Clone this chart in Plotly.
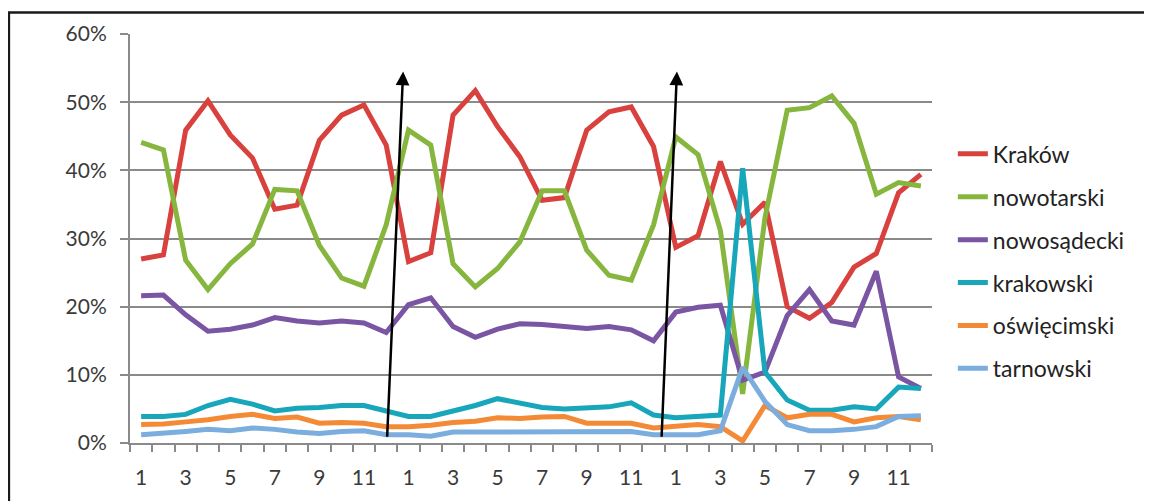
import plotly.graph_objects as go

months = list(range(1, 13)) * 3
x_idx = list(range(len(months)))

krakow = [27.0, 27.6, 45.9, 50.2, 45.2, 41.8, 34.3, 34.9, 44.4, 48.1, 49.6, 43.7,
          26.6, 27.9, 48.1, 51.7, 46.4, 42.0, 35.6, 36.0, 45.9, 48.6, 49.3, 43.5,
          28.7, 30.4, 41.3, 32.1, 35.3, 20.0, 18.3, 20.6, 25.8, 27.8, 36.7, 39.4]
nowotarski = [44.1, 43.0, 26.8, 22.5, 26.3, 29.2, 37.2, 37.0, 29.0, 24.2, 23.0, 32.0,
              45.9, 43.7, 26.3, 22.9, 25.6, 29.5, 37.0, 37.0, 28.3, 24.6, 23.9, 32.0,
              44.9, 42.3, 31.2, 7.2, 33.0, 48.8, 49.2, 50.9, 46.9, 36.5, 38.2, 37.7]
nowosadecki = [21.6, 21.7, 18.8, 16.4, 16.7, 17.3, 18.4, 17.9, 17.6, 17.9, 17.6, 16.2,
               20.3, 21.3, 17.1, 15.5, 16.7, 17.5, 17.4, 17.1, 16.8, 17.1, 16.6, 15.0,
               19.2, 19.9, 20.2, 9.2, 10.4, 18.7, 22.5, 17.9, 17.3, 25.2, 9.7, 8.0]
krakowski = [3.9, 3.9, 4.2, 5.5, 6.4, 5.7, 4.7, 5.1, 5.2, 5.5, 5.5, 4.7,
             3.9, 3.9, 4.7, 5.5, 6.5, 5.9, 5.2, 5.0, 5.2, 5.3, 5.9, 4.1,
             3.7, 3.9, 4.1, 40.3, 10.4, 6.3, 4.8, 4.8, 5.3, 5.0, 8.2, 8.0]
oswiecimski = [2.7, 2.8, 3.1, 3.4, 3.9, 4.2, 3.6, 3.8, 2.9, 3.0, 2.9, 2.4,
               2.4, 2.6, 3.0, 3.2, 3.7, 3.6, 3.8, 3.9, 2.9, 2.9, 2.9, 2.2,
               2.4, 2.7, 2.4, 0.3, 5.5, 3.7, 4.2, 4.2, 3.1, 3.7, 3.9, 3.4]
tarnowski = [1.2, 1.4, 1.7, 2.0, 1.8, 2.2, 2.0, 1.6, 1.4, 1.7, 1.8, 1.2,
             1.2, 1.0, 1.6, 1.6, 1.6, 1.6, 1.6, 1.6, 1.6, 1.6, 1.7, 1.2,
             1.2, 1.2, 1.8, 11.1, 6.1, 2.7, 1.8, 1.8, 2.0, 2.4, 3.9, 4.0]

series = [
    ("Kraków", krakow, "#D8413D"),
    ("nowotarski", nowotarski, "#86B63E"),
    ("nowosądecki", nowosadecki, "#7A55A3"),
    ("krakowski", krakowski, "#17A6BA"),
    ("oświęcimski", oswiecimski, "#F58A36"),
    ("tarnowski", tarnowski, "#7BADDE"),
]

# arrows marking the turn of each year (tail -> head)
arrow_tail_x = [11.04, 23.36]
arrow_head_x = [11.76, 24.05]
arrow_tail_y = [0.007, 0.007]
arrow_head_y = [0.545, 0.545]

grid = "#8A8A8A"
txt = "#3A3A3A"

fig = go.Figure()
for i, (name, vals, color) in enumerate(series):
    fig.add_trace(go.Scatter(
        x=x_idx, y=[v / 100 for v in vals], name=name, mode="lines",
        line=dict(color=color, width=5), legendgroup=str(i)))

for tx, hx, ty, hy in zip(arrow_tail_x, arrow_head_x, arrow_tail_y, arrow_head_y):
    fig.add_annotation(
        x=hx, y=hy, ax=tx, ay=ty, xref="x", yref="y", axref="x", ayref="y",
        text="", showarrow=True, arrowhead=2, arrowsize=1.1, arrowwidth=2.5,
        arrowcolor="black", standoff=0)

# outer frame of the original picture
fig.add_shape(type="rect", xref="paper", yref="paper",
              x0=-0.151, x1=1.3, y0=-0.2, y1=1.0527,
              line=dict(color="#1A1A1A", width=2.5), layer="below")

fig.update_xaxes(
    range=[-0.5, 35.5], tickmode="array", tickvals=x_idx[::2],
    ticktext=[str(m) for m in months[::2]],
    ticks="outside", ticklen=7, tickcolor="rgba(0,0,0,0)", ticklabelstandoff=8,
    minor=dict(tickmode="linear", tick0=-0.5, dtick=1, ticks="outside",
               ticklen=7, tickwidth=2, tickcolor=grid, showgrid=False),
    showline=True, linecolor=grid, linewidth=2, showgrid=False, zeroline=False,
    tickfont=dict(size=21, color=txt, family="Lato"))
fig.update_yaxes(
    range=[0, 0.6], dtick=0.1, tickformat=".0%", showgrid=True, gridcolor=grid,
    gridwidth=2, showline=True, linecolor=grid, linewidth=2, zeroline=False,
    ticks="outside", ticklen=8, tickwidth=2, tickcolor=grid, ticklabelstandoff=9,
    tickfont=dict(size=21, color=txt, family="Lato"))

fig.update_layout(
    width=1144, height=493,
    margin=dict(l=122, r=220, t=23, b=56),
    paper_bgcolor="white", plot_bgcolor="white",
    font=dict(family="Lato", color=txt),
    showlegend=True,
    legend=dict(x=1.026, xanchor="left", y=0.444, yanchor="middle",
                font=dict(size=23, color="#222222"), tracegroupgap=10,
                bgcolor="rgba(0,0,0,0)"),
)

fig.write_html("out.html")
